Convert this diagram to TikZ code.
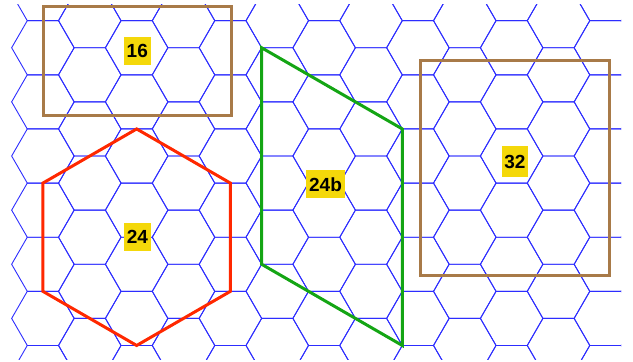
\documentclass[tikz,border=0pt]{standalone}
\usepackage{fontspec}
\setmainfont{Liberation Sans}
\definecolor{gridblue}{RGB}{45,45,255}
\definecolor{hexred}{RGB}{255,40,0}
\definecolor{quadgreen}{RGB}{20,165,20}
\definecolor{rectbrown}{RGB}{168,122,72}
\definecolor{labelyellow}{RGB}{244,216,10}
\tikzset{
  gridline/.style={draw=gridblue, line width=0.9pt},
  region/.style={line width=3pt, line join=miter},
  tag/.style={fill=labelyellow, font=\fontsize{19}{19}\selectfont\bfseries, text=black,
    inner xsep=2.8pt, inner ysep=0pt, text height=13.7pt, text depth=0pt, minimum height=28pt}
}
\begin{document}
\begin{tikzpicture}[x=1pt,y=-1pt]
\useasboundingbox (0,0) rectangle (633,362);
% hexagonal grid
\begin{scope}
\clip (0,4) rectangle (621,359);
\foreach \i in {0,...,12} {
  \foreach \k in {-1,...,7} {
    \pgfmathsetmacro\cx{42.9+46.875*\i}
    \pgfmathsetmacro\cy{47.75+54.13*\k-27.065*mod(\i,2)}
    \draw[gridline] (\cx,\cy) +(31.25,0) -- +(15.625,27.065) -- +(-15.625,27.065)
      -- +(-31.25,0) -- +(-15.625,-27.065) -- +(15.625,-27.065) -- cycle;
  }
}
\end{scope}
% region 16
\draw[region, draw=rectbrown] (43.3,6.7) rectangle (231,115.7);
% region 32
\draw[region, draw=rectbrown] (420.7,60) rectangle (609,275.7);
% region 24 (hexagon)
\draw[region, draw=hexred] (136.65,128.95) -- (230.4,183.08) -- (230.4,291.34)
  -- (136.65,345.47) -- (42.9,291.34) -- (42.9,183.08) -- cycle;
% region 24b
\draw[region, draw=quadgreen] (261.65,47.75) -- (402.3,128.95) -- (402.3,345.47)
  -- (261.65,264.27) -- cycle;
% labels
\node[tag] (l16) at (137.3,50.7) {16};
\node[tag] (l24) at (137.5,237) {24};
\node[tag] (l24b) at (325.5,184.2) {24b};
\node[tag, minimum height=31pt] (l32) at (515,161.8) {32};
\end{tikzpicture}
\end{document}
